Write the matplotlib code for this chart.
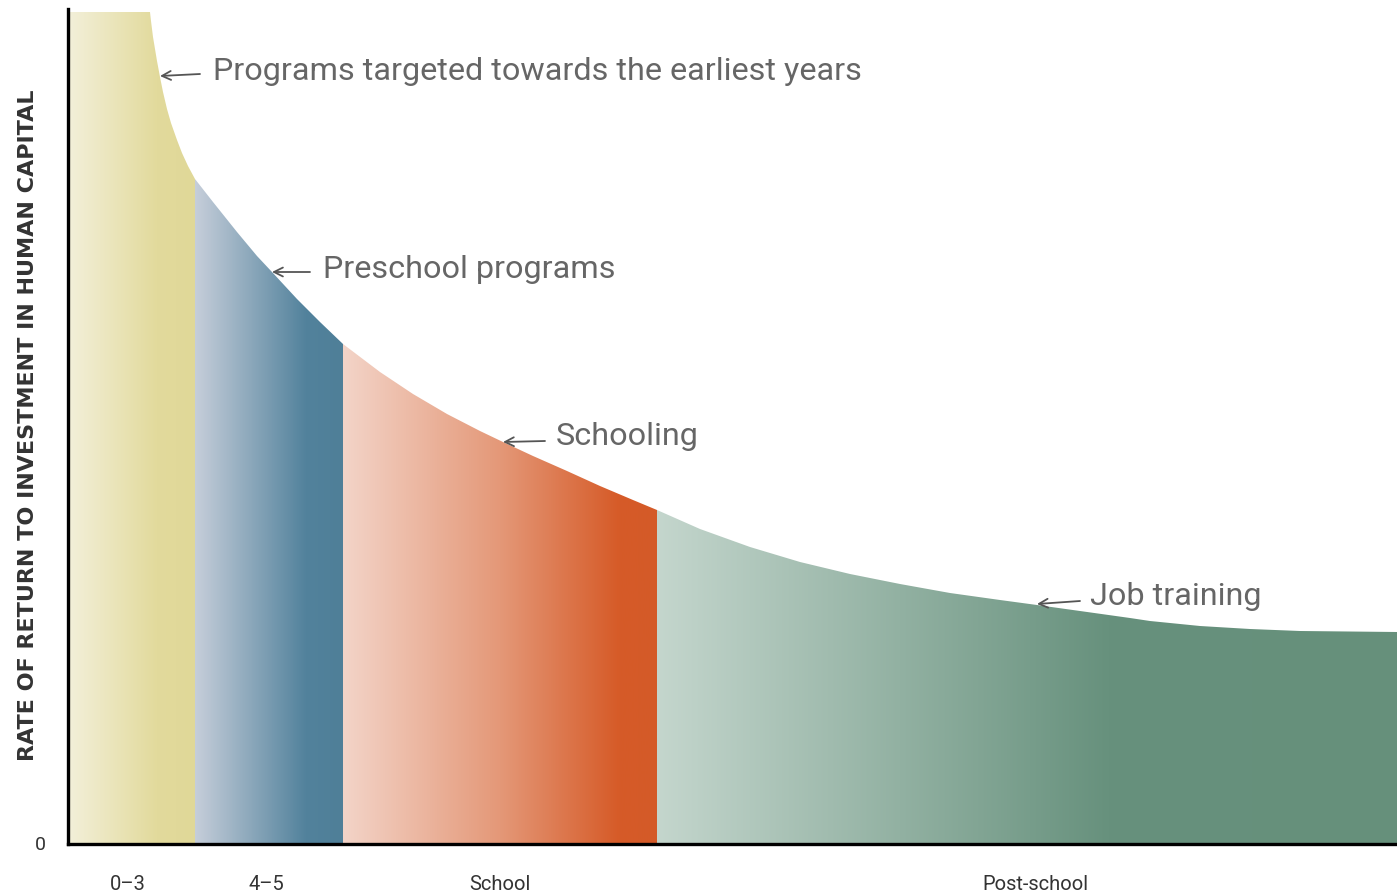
import numpy as np
import matplotlib
matplotlib.use("Agg")
import matplotlib.pyplot as plt
from matplotlib.colors import LinearSegmentedColormap
from matplotlib.patches import Polygon

# curva de rendimiento (unidades arbitrarias)
curve_x = [0, 82, 83, 85, 89, 92, 95, 99, 103, 109, 114, 120, 127,
           145, 169, 189, 204, 229, 252, 275,
           312, 345, 379, 412, 435, 465, 499, 532, 565, 589,
           632, 682, 732, 782, 832, 882, 932, 969, 1012, 1062, 1082,
           1132, 1182, 1232, 1329]
curve_y = [832, 832, 823, 807, 783, 767, 752, 735, 721, 704, 691, 678, 665,
           642, 612, 588, 572, 545, 522, 500,
           472, 450, 430, 413, 402, 388, 373, 358, 344, 334,
           315, 297, 282, 270, 260, 251, 244, 239, 233, 226, 223,
           218, 215, 213, 212]

# etapas
stage_edges = [0, 127, 275, 589, 1329]
stage_labels = ["0–3", "4–5", "School", "Post-school"]
stage_label_x = [60, 198, 432, 967]
stage_colors = [
    [(0.0, "#f3f0da"), (0.7, "#e2da9c"), (1.0, "#e0d898")],
    [(0.0, "#c6ceda"), (0.75, "#52829c"), (1.0, "#4f7f98")],
    [(0.0, "#f3d4c8"), (0.5, "#e49878"), (0.88, "#d65b28"), (1.0, "#d45a28")],
    [(0.0, "#c4d6cd"), (0.61, "#67917d"), (1.0, "#66907b")],
]

# anotaciones
notes = ["Programs targeted towards the earliest years", "Preschool programs",
         "Schooling", "Job training"]
note_text_xy = [(145, 765), (255, 567), (488, 400), (1022, 240)]
note_tail = [(132, 770), (242, 572), (477, 403), (1012, 243)]
note_tip = [(92, 768), (204, 572), (435, 402), (969, 240)]

fam = ["Roboto", "DejaVu Sans"]

fig = plt.figure(figsize=(13.97, 8.95), dpi=100)
ax = fig.add_axes([68 / 1397, 50 / 895, 1329 / 1397, 835 / 895])
ax.set_xlim(0, 1329)
ax.set_ylim(0, 835)

# poligono bajo la curva para recortar los degradados
verts = list(zip(curve_x, curve_y)) + [(curve_x[-1], 0), (curve_x[0], 0)]
area = Polygon(verts, closed=True, facecolor="none", edgecolor="none")
ax.add_patch(area)

grad = np.linspace(0, 1, 512)[None, :]
for i, stops in enumerate(stage_colors):
    cmap = LinearSegmentedColormap.from_list("s%d" % i, stops)
    im = ax.imshow(grad, extent=[stage_edges[i], stage_edges[i + 1], 0, 835],
                   cmap=cmap, aspect="auto", origin="lower", interpolation="bicubic")
    im.set_clip_path(area)

for s in ["top", "right"]:
    ax.spines[s].set_visible(False)
for s in ["left", "bottom"]:
    ax.spines[s].set_linewidth(2.4)
    ax.spines[s].set_color("black")
ax.set_xticks([])
ax.set_yticks([])

for txt, (tx, ty), tail, tip in zip(notes, note_text_xy, note_tail, note_tip):
    ax.annotate("", xy=tip, xytext=tail,
                arrowprops=dict(arrowstyle="->", color="#555555", lw=1.3,
                                shrinkA=0, shrinkB=0, mutation_scale=16))
    ax.text(tx, ty, txt, ha="left", va="baseline", fontsize=23.3,
            color="#666666", family=fam)

for lab, lx in zip(stage_labels, stage_label_x):
    ax.text(lx, -40, lab, ha="center", va="center", fontsize=14.5,
            color="#333333", family=fam)

ax.text(-28, 0, "0", ha="center", va="center", fontsize=14, color="#333333", family=fam)
ax.text(-40, 420, "RATE OF RETURN TO INVESTMENT IN HUMAN CAPITAL", rotation=90,
        ha="center", va="center", fontsize=16, fontweight="bold", color="#333333")

fig.savefig("out.png", dpi=100)
